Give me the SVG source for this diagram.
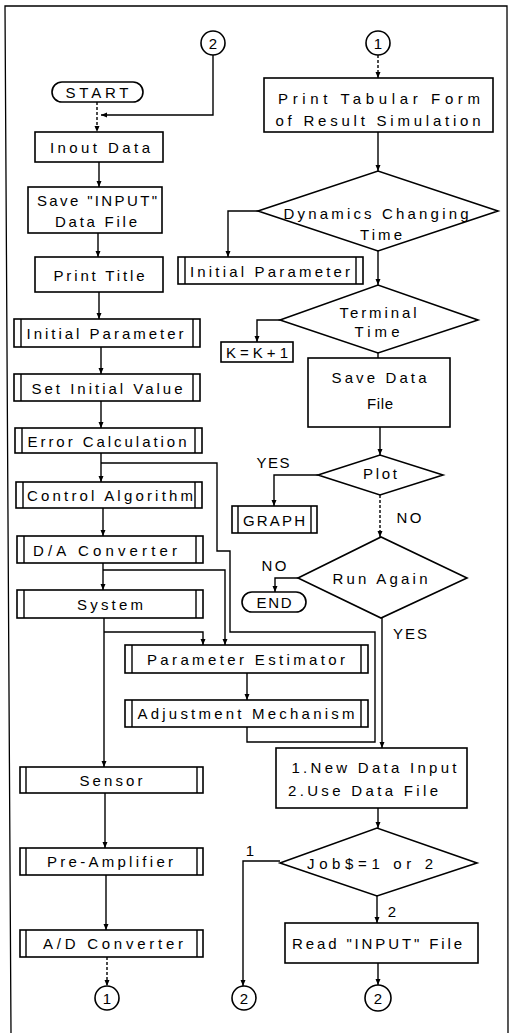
<svg xmlns="http://www.w3.org/2000/svg" width="510" height="1033" viewBox="0 0 510 1033">
<defs>
<marker id="ah" viewBox="0 0 6 6" refX="6" refY="3" markerWidth="6" markerHeight="6" orient="auto" markerUnits="userSpaceOnUse"><path d="M0,0.5 L6,3 L0,5.5z" fill="#000"/></marker>
<style>
.b{fill:#fff;stroke:#000;stroke-width:1.6}
.bar{stroke:#000;stroke-width:1.4;fill:none}
.t{font-family:"Liberation Sans",Arial,sans-serif;font-size:15px;fill:#000;text-anchor:middle}
.c{fill:none;stroke:#000;stroke-width:1.4}
.d{stroke-dasharray:3 2}
.fr{fill:none;stroke:#000;stroke-width:1.3}
</style>
</defs>
<rect width="510" height="1033" fill="#fff"/>
<path class="fr" d="M11,1033 L5,6 L507,6 L508,1033"/>

<g id="connectors">
<path class="c" d="M213,55 V115 H101" marker-end="url(#ah)"/>
<path class="c d" d="M97,102 V132" marker-end="url(#ah)"/>
<path class="c" d="M99,162 V187" marker-end="url(#ah)"/>
<path class="c" d="M98,233 V257" marker-end="url(#ah)"/>
<path class="c" d="M99,292 V319" marker-end="url(#ah)"/>
<path class="c" d="M101,347 V374" marker-end="url(#ah)"/>
<path class="c" d="M101,401 V428" marker-end="url(#ah)"/>
<path class="c" d="M101,453 V482" marker-end="url(#ah)"/>
<path class="c" d="M103,508 V536" marker-end="url(#ah)"/>
<path class="c" d="M103,563 V590" marker-end="url(#ah)"/>
<path class="c" d="M104,618 V767" marker-end="url(#ah)"/>
<path class="c" d="M105,793 V848" marker-end="url(#ah)"/>
<path class="c" d="M106,875 V930" marker-end="url(#ah)"/>
<path class="c d" d="M107,957 V986" marker-end="url(#ah)"/>
<path class="c" d="M103,570 H225 V645" marker-end="url(#ah)"/>
<path class="c" d="M104,632 H203 V645" marker-end="url(#ah)"/>
<path class="c" d="M247,673 V700" marker-end="url(#ah)"/>
<path class="c" d="M247,727 V742 H375 V632 H230 V551 H217 V463 H101"/>
<path class="c d" d="M378,55 V78" marker-end="url(#ah)"/>
<path class="c" d="M378,132 V171" marker-end="url(#ah)"/>
<path class="c" d="M258,211 H228 V257" marker-end="url(#ah)"/>
<path class="c" d="M378,251 V285" marker-end="url(#ah)"/>
<path class="c" d="M280,320 H257 V342" marker-end="url(#ah)"/>
<path class="c" d="M378,353 V358"/>
<path class="c" d="M380,427 V455" marker-end="url(#ah)"/>
<path class="c" d="M318,475 H274 V506" marker-end="url(#ah)"/>
<path class="c d" d="M380,495 V537" marker-end="url(#ah)"/>
<path class="c" d="M298,578 H275 V592" marker-end="url(#ah)"/>
<path class="c" d="M382,618 V748" marker-end="url(#ah)"/>
<path class="c" d="M378,808 V828" marker-end="url(#ah)"/>
<path class="c" d="M280,861 H243 V986" marker-end="url(#ah)"/>
<path class="c" d="M377,896 V923" marker-end="url(#ah)"/>
<path class="c" d="M378,963 V985" marker-end="url(#ah)"/>
</g>

<g id="conn2-top"><circle class="b" cx="213" cy="43" r="12"/><text class="t" x="213" y="48.5">2</text></g>
<g id="start"><rect class="b" x="52" y="82" width="91" height="20" rx="10"/><text class="t" x="97" y="97.5" textLength="63">START</text></g>
<g id="inout-data"><rect class="b" x="35" y="132" width="128" height="30"/><text class="t" x="100" y="152.5" textLength="100">Inout Data</text></g>
<g id="save-input"><rect class="b" x="28" y="187" width="134" height="46"/><text class="t" x="97" y="205.5" textLength="120">Save "INPUT"</text><text class="t" x="96" y="226.5" textLength="82">Data File</text></g>
<g id="print-title"><rect class="b" x="35" y="257" width="128" height="35"/><text class="t" x="99" y="280.5" textLength="91">Print Title</text></g>
<g id="initial-parameter"><rect class="b" x="14" y="319" width="186" height="28"/><path class="bar" d="M21,319V347M193,319V347"/><text class="t" x="105" y="338.5" textLength="157">Initial Parameter</text></g>
<g id="set-initial-value"><rect class="b" x="14" y="374" width="186" height="27"/><path class="bar" d="M21,374V401M193,374V401"/><text class="t" x="107" y="393.5" textLength="151">Set Initial Value</text></g>
<g id="error-calculation"><rect class="b" x="15" y="428" width="187" height="25"/><path class="bar" d="M22,428V453M195,428V453"/><text class="t" x="107" y="446.5" textLength="159">Error Calculation</text></g>
<g id="control-algorithm"><rect class="b" x="16" y="482" width="186" height="26"/><path class="bar" d="M23,482V508M195,482V508"/><text class="t" x="110" y="500.5" textLength="166">Control Algorithm</text></g>
<g id="da-converter"><rect class="b" x="17" y="536" width="186" height="27"/><path class="bar" d="M24,536V563M196,536V563"/><text class="t" x="105" y="555.5" textLength="144">D/A Converter</text></g>
<g id="system"><rect class="b" x="17" y="590" width="186" height="28"/><path class="bar" d="M24,590V618M196,590V618"/><text class="t" x="110" y="609.5" textLength="66">System</text></g>
<g id="parameter-estimator"><rect class="b" x="125" y="645" width="243" height="28"/><path class="bar" d="M132,645V673M361,645V673"/><text class="t" x="246" y="664.5" textLength="198">Parameter Estimator</text></g>
<g id="adjustment-mechanism"><rect class="b" x="125" y="700" width="243" height="27"/><path class="bar" d="M132,700V727M361,700V727"/><text class="t" x="246" y="718.5" textLength="217">Adjustment Mechanism</text></g>
<g id="sensor"><rect class="b" x="20" y="767" width="183" height="26"/><path class="bar" d="M26,767V793M197,767V793"/><text class="t" x="111" y="785.5" textLength="63">Sensor</text></g>
<g id="pre-amplifier"><rect class="b" x="20" y="848" width="183" height="27"/><path class="bar" d="M26,848V875M197,848V875"/><text class="t" x="110" y="866.5" textLength="126">Pre-Amplifier</text></g>
<g id="ad-converter"><rect class="b" x="20" y="930" width="183" height="27"/><path class="bar" d="M26,930V957M197,930V957"/><text class="t" x="113" y="948.5" textLength="140">A/D Converter</text></g>
<g id="conn1-bottom"><circle class="b" cx="107" cy="998" r="12"/><text class="t" x="107" y="1003.5">1</text></g>

<g id="conn1-top"><circle class="b" cx="378" cy="43" r="12"/><text class="t" x="378" y="48.5">1</text></g>
<g id="print-tabular"><rect class="b" x="264" y="78" width="229" height="54"/><text class="t" x="379" y="103.5" textLength="202">Print Tabular Form</text><text class="t" x="378" y="125.5" textLength="205">of Result Simulation</text></g>
<g id="dynamics-changing"><polygon class="b" points="258,211 378,171 498,211 378,251"/><text class="t" x="376" y="218.5" textLength="185">Dynamics Changing</text><text class="t" x="381" y="239.5" textLength="42">Time</text></g>
<g id="initial-parameter-2"><rect class="b" x="178" y="257" width="185" height="27"/><path class="bar" d="M185,257V284M356,257V284"/><text class="t" x="270" y="276.5" textLength="160">Initial Parameter</text></g>
<g id="terminal-time"><polygon class="b" points="280,320 378,285 478,320 378,353"/><text class="t" x="378" y="317.5" textLength="77">Terminal</text><text class="t" x="377" y="336.5" textLength="45">Time</text></g>
<g id="k-increment"><rect class="b" x="221" y="342" width="72" height="20"/><text class="t" x="257" y="357.5" textLength="62">K=K+1</text></g>
<g id="save-data-file"><rect class="b" x="308" y="358" width="142" height="69"/><text class="t" x="379" y="382.5" textLength="95">Save Data</text><text class="t" x="380" y="408.5" textLength="26">File</text></g>
<g id="plot"><polygon class="b" points="318,475 380,455 443,475 380,495"/><text class="t" x="380" y="478.5" textLength="34">Plot</text></g>
<g id="graph"><rect class="b" x="232" y="506" width="85" height="27"/><path class="bar" d="M238,506V533M311,506V533"/><text class="t" x="274" y="525.5" textLength="62">GRAPH</text></g>
<g id="run-again"><polygon class="b" points="298,578 381,537 467,578 381,618"/><text class="t" x="380" y="583.5" textLength="95">Run Again</text></g>
<g id="end"><rect class="b" x="242" y="592" width="64" height="20" rx="10"/><text class="t" x="274" y="607.5" textLength="35">END</text></g>
<g id="new-data"><rect class="b" x="276" y="748" width="191" height="60"/><text class="t" x="374" y="772.5" textLength="165">1.New Data Input</text><text class="t" x="363" y="795.5" textLength="150">2.Use Data File</text></g>
<g id="job"><polygon class="b" points="280,863 377,828 477,863 377,896"/><text class="t" x="370" y="868.5" textLength="126">Job$=1 or 2</text></g>
<g id="read-input"><rect class="b" x="285" y="923" width="193" height="40"/><text class="t" x="377" y="948.5" textLength="170">Read "INPUT" File</text></g>
<g id="conn2-mid"><circle class="b" cx="244" cy="998" r="12"/><text class="t" x="244" y="1003.5">2</text></g>
<g id="conn2-right"><circle class="b" cx="378" cy="998" r="13"/><text class="t" x="378" y="1003.5">2</text></g>

<g id="labels">
<text class="t" x="273" y="467.5" textLength="33">YES</text>
<text class="t" x="409" y="522.5" textLength="25">NO</text>
<text class="t" x="274" y="570.5" textLength="25">NO</text>
<text class="t" x="410" y="638.5" textLength="34">YES</text>
<text class="t" x="250" y="856">1</text>
<text class="t" x="392" y="917">2</text>
</g>
</svg>
